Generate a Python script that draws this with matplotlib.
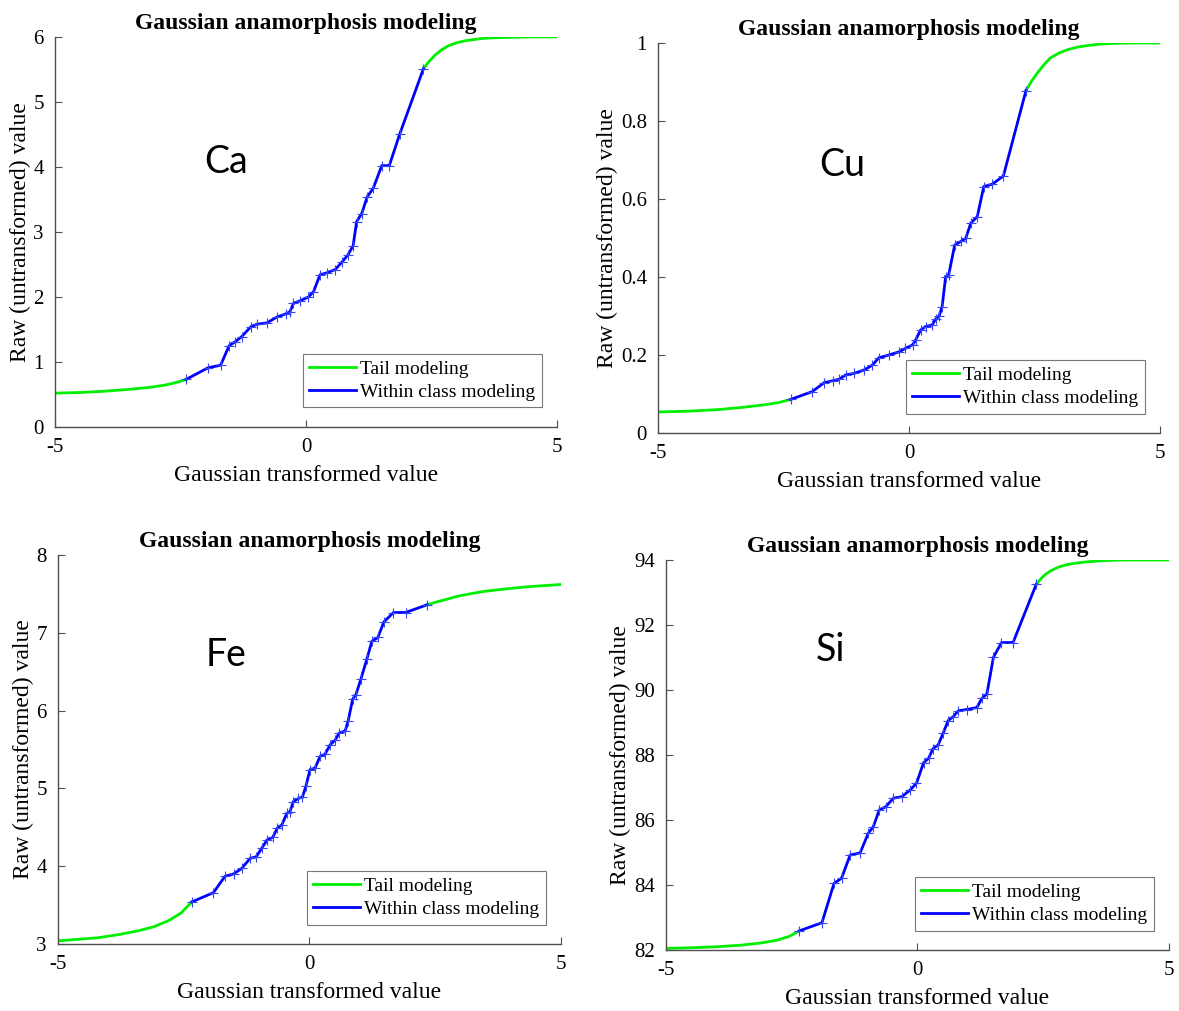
import matplotlib
matplotlib.use('Agg')
import matplotlib.pyplot as plt

# ---- Ca ----
ca_tail_lo_x = [-5.0, -4.5, -4.0, -3.5, -3.1, -2.8, -2.6, -2.39]
ca_tail_lo_y = [0.52, 0.53, 0.55, 0.58, 0.61, 0.645, 0.68, 0.73]
ca_x = [-2.39, -1.95, -1.70, -1.53, -1.41, -1.28, -1.10, -0.98, -0.78, -0.58,
        -0.40, -0.32, -0.25, -0.12, 0.05, 0.15, 0.28, 0.41, 0.58, 0.71,
        0.84, 0.94, 1.01, 1.11, 1.22, 1.34, 1.51, 1.66, 1.87, 2.34]
ca_y = [0.73, 0.91, 0.95, 1.25, 1.31, 1.39, 1.54, 1.58, 1.60, 1.69,
        1.74, 1.77, 1.90, 1.94, 2.00, 2.08, 2.34, 2.37, 2.42, 2.53,
        2.65, 2.79, 3.16, 3.28, 3.54, 3.67, 4.02, 4.02, 4.51, 5.51]
ca_tail_hi_x = [2.34, 2.45, 2.57, 2.70, 2.83, 3.0, 3.17, 3.35, 3.5, 3.7, 3.9, 4.2, 4.5, 5.0]
ca_tail_hi_y = [5.51, 5.62, 5.72, 5.80, 5.86, 5.91, 5.94, 5.96, 5.975, 5.985, 5.99, 5.995, 6.0, 6.0]

# ---- Cu ----
cu_tail_lo_x = [-5.0, -4.4, -3.8, -3.3, -2.9, -2.6, -2.36]
cu_tail_lo_y = [0.054, 0.056, 0.060, 0.066, 0.072, 0.078, 0.086]
cu_x = [-2.36, -1.93, -1.69, -1.52, -1.39, -1.26, -1.09, -0.89, -0.73, -0.60,
        -0.40, -0.20, -0.07, 0.07, 0.13, 0.23, 0.33, 0.46, 0.53, 0.60,
        0.66, 0.73, 0.79, 0.91, 1.03, 1.13, 1.23, 1.36, 1.49, 1.66,
        1.88, 2.33]
cu_y = [0.086, 0.106, 0.129, 0.134, 0.138, 0.149, 0.153, 0.162, 0.174, 0.193,
        0.200, 0.208, 0.217, 0.226, 0.238, 0.264, 0.273, 0.277, 0.292, 0.300,
        0.324, 0.401, 0.405, 0.482, 0.491, 0.499, 0.538, 0.555, 0.632, 0.638,
        0.659, 0.878]
cu_tail_hi_x = [2.33, 2.44, 2.55, 2.68, 2.81, 2.97, 3.14, 3.34, 3.54, 3.8, 4.07, 4.5, 5.0]
cu_tail_hi_y = [0.878, 0.902, 0.922, 0.943, 0.961, 0.973, 0.982, 0.989, 0.993, 0.997, 0.999, 1.0, 1.0]

# ---- Fe ----
fe_tail_lo_x = [-5.0, -4.6, -4.2, -3.8, -3.4, -3.1, -2.8, -2.55, -2.34]
fe_tail_lo_y = [3.04, 3.06, 3.08, 3.12, 3.17, 3.22, 3.30, 3.40, 3.54]
fe_x = [-2.34, -1.91, -1.68, -1.51, -1.35, -1.18, -1.06, -0.95, -0.84, -0.73,
        -0.64, -0.55, -0.45, -0.39, -0.32, -0.22, -0.14, -0.07, 0.01, 0.11,
        0.21, 0.31, 0.41, 0.51, 0.59, 0.71, 0.77, 0.86, 0.92, 1.02,
        1.14, 1.24, 1.36, 1.48, 1.67, 1.91, 2.34]
fe_y = [3.54, 3.66, 3.87, 3.90, 3.97, 4.10, 4.12, 4.23, 4.34, 4.37,
        4.49, 4.53, 4.68, 4.70, 4.83, 4.87, 4.89, 5.03, 5.24, 5.26,
        5.41, 5.44, 5.56, 5.62, 5.71, 5.74, 5.87, 6.15, 6.20, 6.40,
        6.66, 6.89, 6.94, 7.14, 7.26, 7.26, 7.36]
fe_tail_hi_x = [2.34, 2.55, 2.73, 2.95, 3.19, 3.45, 3.72, 4.0, 4.32, 4.65, 5.0]
fe_tail_hi_y = [7.36, 7.40, 7.43, 7.47, 7.50, 7.53, 7.55, 7.57, 7.59, 7.605, 7.62]

# ---- Si ----
si_tail_lo_x = [-5.0, -4.5, -4.0, -3.5, -3.1, -2.8, -2.55, -2.35]
si_tail_lo_y = [82.05, 82.07, 82.10, 82.15, 82.22, 82.30, 82.42, 82.59]
si_x = [-2.35, -1.90, -1.66, -1.51, -1.34, -1.14, -0.98, -0.88, -0.76, -0.63,
        -0.48, -0.31, -0.15, -0.02, 0.12, 0.22, 0.31, 0.41, 0.51, 0.61,
        0.71, 0.81, 0.98, 1.18, 1.28, 1.38, 1.51, 1.67, 1.90, 2.36]
si_y = [82.59, 82.84, 84.05, 84.21, 84.92, 84.99, 85.59, 85.79, 86.31, 86.41,
        86.67, 86.72, 86.92, 87.13, 87.76, 87.90, 88.20, 88.31, 88.67, 89.06,
        89.18, 89.36, 89.40, 89.46, 89.74, 89.88, 91.01, 91.46, 91.46, 93.25]
si_tail_hi_x = [2.36, 2.45, 2.53, 2.65, 2.80, 2.95, 3.13, 3.35, 3.59, 3.85, 4.13, 4.5, 5.0]
si_tail_hi_y = [93.25, 93.42, 93.54, 93.67, 93.78, 93.85, 93.90, 93.94, 93.97, 93.99, 94.0, 94.0, 94.0]

x_ticks = [-5, 0, 5]
ca_yticks = [0, 1, 2, 3, 4, 5, 6]
cu_yticks = [0, 0.2, 0.4, 0.6, 0.8, 1]
cu_ylabels = ['0', '0.2', '0.4', '0.6', '0.8', '1']
fe_yticks = [3, 4, 5, 6, 7, 8]
si_yticks = [82, 84, 86, 88, 90, 92, 94]

title = 'Gaussian anamorphosis modeling'
xlab = 'Gaussian transformed value'
ylab = 'Raw (untransformed) value'

plt.rcParams['font.family'] = 'Liberation Serif'
plt.rcParams['axes.unicode_minus'] = False

GREEN = '#00ee00'
BLUE = '#0000ff'
AXC = '#505050'

fig = plt.figure(figsize=(11.79, 10.11), dpi=100)


def panel(rect, lo_x, lo_y, bx, by, hi_x, hi_y, yticks, ylabels, ylim, name, name_pos):
    ax = fig.add_axes(rect)
    ax.plot(lo_x, lo_y, color=GREEN, lw=2.0, label='Tail modeling')
    ax.plot(hi_x, hi_y, color=GREEN, lw=2.0)
    ax.plot(bx, by, color=BLUE, lw=2.0, label='Within class modeling')
    ax.plot(bx, by, ls='none', marker='+', ms=7, mew=0.8, color='#3344ff')
    ax.set_xlim(-5, 5)
    ax.set_ylim(*ylim)
    ax.set_xticks(x_ticks)
    ax.set_yticks(yticks)
    if ylabels is not None:
        ax.set_yticklabels(ylabels)
    for s in ['top', 'right']:
        ax.spines[s].set_visible(False)
    for s in ['left', 'bottom']:
        ax.spines[s].set_color(AXC)
        ax.spines[s].set_linewidth(1.0)
    ax.tick_params(direction='in', length=5, width=0.8, color=AXC,
                   labelsize=15, pad=8)
    ax.set_title(title, fontweight='bold', fontsize=17, pad=6)
    ax.set_xlabel(xlab, fontsize=17, labelpad=6)
    ax.set_ylabel(ylab, fontsize=17, labelpad=2)
    ax.text(name_pos[0], name_pos[1], name, transform=ax.transAxes,
            fontsize=27, family='Lato', ha='center', va='center')
    leg = ax.legend(loc='lower right', bbox_to_anchor=(0.97, 0.05),
                    fancybox=False, edgecolor='#555555', fontsize=14,
                    handlelength=2.4, handletextpad=0.2, borderpad=0.35,
                    labelspacing=0.25, borderaxespad=0)
    leg.get_frame().set_linewidth(0.8)
    return ax


panel([0.0466, 0.5777, 0.4258, 0.3858], ca_tail_lo_x, ca_tail_lo_y, ca_x, ca_y,
      ca_tail_hi_x, ca_tail_hi_y, ca_yticks, None, (0, 6), 'Ca', (0.341, 0.679))
panel([0.5581, 0.5717, 0.4258, 0.3858], cu_tail_lo_x, cu_tail_lo_y, cu_x, cu_y,
      cu_tail_hi_x, cu_tail_hi_y, cu_yticks, cu_ylabels, (0, 1), 'Cu', (0.367, 0.687))
panel([0.0492, 0.0663, 0.4266, 0.3848], fe_tail_lo_x, fe_tail_lo_y, fe_x, fe_y,
      fe_tail_hi_x, fe_tail_hi_y, fe_yticks, None, (3, 8), 'Fe', (0.334, 0.743))
panel([0.5649, 0.0603, 0.4266, 0.3858], si_tail_lo_x, si_tail_lo_y, si_x, si_y,
      si_tail_hi_x, si_tail_hi_y, si_yticks, None, (82, 94), 'Si', (0.326, 0.769))

fig.savefig('out.png', dpi=100)
